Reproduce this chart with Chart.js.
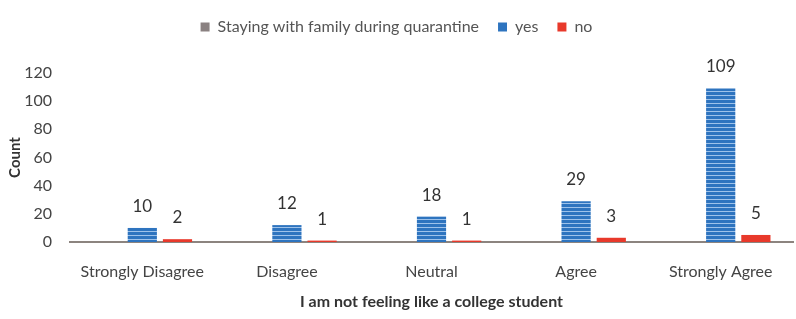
<!DOCTYPE html>
<html>
<head>
<meta charset="utf-8">
<script src="https://cdn.jsdelivr.net/npm/chart.js@4"></script>
<style>
  html, body { margin: 0; padding: 0; background: #fff; }
  #wrap { width: 796px; height: 319px; }
</style>
</head>
<body>
<div id="wrap"><canvas id="chart"></canvas></div>
<script>
const categories = ['Strongly Disagree', 'Disagree', 'Neutral', 'Agree', 'Strongly Agree'];
const familyValues = [0, 0, 0, 0, 0];
const yesValues = [10, 12, 18, 29, 109];
const noValues = [2, 1, 1, 3, 5];
const yTicks = [0, 20, 40, 60, 80, 100, 120];

const FONT = 'Lato, "Open Sans", sans-serif';
const BLUE = '#2e74bf';
const RED = '#e8392b';
const GRAY = '#8a8181';

function stripePattern() {
  const c = document.createElement('canvas');
  c.width = 4;
  c.height = 4;
  const ctx = c.getContext('2d');
  ctx.fillStyle = BLUE;
  ctx.fillRect(0, 0, 4, 4);
  ctx.fillStyle = '#9ec2ea';
  ctx.fillRect(0, 3, 4, 1);
  return ctx.createPattern(c, 'repeat');
}

const valueLabels = {
  id: 'valueLabels',
  afterDatasetsDraw(chart) {
    const { ctx } = chart;
    ctx.save();
    ctx.font = '17px ' + FONT;
    ctx.fillStyle = '#333';
    ctx.textAlign = 'center';
    ctx.textBaseline = 'bottom';
    chart.data.datasets.forEach((ds, i) => {
      chart.getDatasetMeta(i).data.forEach((bar, j) => {
        const v = ds.data[j];
        if (!v) return;
        ctx.fillText(String(v), bar.x, bar.y - 13);
      });
    });
    ctx.restore();
  }
};

new Chart(document.getElementById('chart'), {
  type: 'bar',
  data: {
    labels: categories,
    datasets: [
      { label: 'Staying with family during quarantine', data: familyValues, backgroundColor: GRAY },
      { label: 'yes', data: yesValues, backgroundColor: stripePattern() },
      { label: 'no', data: noValues, backgroundColor: RED }
    ]
  },
  options: {
    responsive: true,
    maintainAspectRatio: false,
    animation: false,
    layout: { padding: { top: 0, right: 3, left: 0, bottom: 0 } },
    datasets: { bar: { categoryPercentage: 0.73, barPercentage: 0.83 } },
    plugins: {
      tooltip: { enabled: false },
      // empty title works as a spacer between legend and plot
      title: {
        display: true,
        text: '',
        font: { size: 10, lineHeight: 1 },
        padding: { top: 0, bottom: 18 }
      },
      legend: {
        position: 'top',
        weight: 3000,
        labels: {
          font: { family: FONT, size: 16 },
          color: '#555',
          boxWidth: 9,
          boxHeight: 9,
          padding: 19,
          generateLabels(chart) {
            const items = Chart.defaults.plugins.legend.labels.generateLabels(chart);
            const solid = [GRAY, BLUE, RED];
            items.forEach((it, i) => { it.fillStyle = solid[i]; it.strokeStyle = solid[i]; it.lineWidth = 0; });
            return items;
          }
        }
      }
    },
    scales: {
      x: {
        grid: { display: false },
        border: { display: true, color: '#8c847f', width: 2 },
        ticks: { font: { family: FONT, size: 16 }, color: '#444', padding: 12 },
        title: {
          display: true,
          text: 'I am not feeling like a college student',
          font: { family: FONT, size: 16, weight: 'bold' },
          color: '#333',
          padding: { top: 8, bottom: 8 }
        },
        afterFit(scale) { scale.height = 77; }
      },
      y: {
        min: 0,
        max: 120,
        grid: { display: false },
        border: { display: false },
        afterBuildTicks(scale) { scale.ticks = yTicks.map((v) => ({ value: v })); },
        ticks: { font: { family: FONT, size: 16 }, color: '#444', padding: 10 },
        title: {
          display: true,
          text: 'Count',
          font: { family: FONT, size: 15, weight: 'bold' },
          color: '#333',
          padding: { top: 6, bottom: 6 }
        },
        afterFit(scale) { scale.width = 70; }
      }
    }
  },
  plugins: [valueLabels]
});
</script>
</body>
</html>
